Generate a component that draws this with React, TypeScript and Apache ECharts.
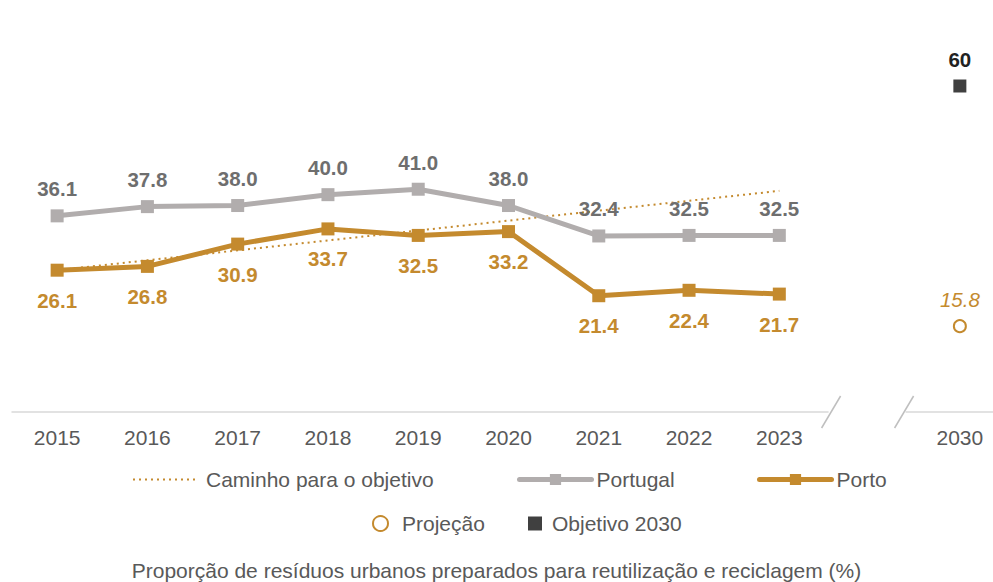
import React, { useEffect, useRef } from "react";
import * as echarts from "echarts";

const categories = ["2015", "2016", "2017", "2018", "2019", "2020", "2021", "2022", "2023", "", "2030"];
const portugal = [36.1, 37.8, 38.0, 40.0, 41.0, 38.0, 32.4, 32.5, 32.5, null, null];
const porto = [26.1, 26.8, 30.9, 33.7, 32.5, 33.2, 21.4, 22.4, 21.7, null, null];
const trendPath = [26.1, null, null, null, null, null, null, null, 40.7, null, null];
const projection = [null, null, null, null, null, null, null, null, null, null, 15.8];
const objective = [null, null, null, null, null, null, null, null, null, null, 60];

const FONT = "'Liberation Sans', Arial, sans-serif";
const GOLD = "#c48a2e";
const GREY_LINE = "#b1adad";
const GREY_TEXT = "#6e6e6e";
const TEXT = "#595959";
const FS = 21;
const LFS = 20.5;

export default function App() {
  const ref = useRef<HTMLDivElement>(null);
  useEffect(() => {
    document.body.style.margin = "0";
    if (!ref.current) return;
    const chart = echarts.init(ref.current, undefined, { renderer: "svg" });
    const legendText = { color: TEXT, fontSize: FS, fontFamily: FONT };
    chart.setOption({
      animation: false,
      textStyle: { fontFamily: FONT },
      title: {
        text: "Proporção de resíduos urbanos preparados para reutilização e reciclagem (%)",
        left: "center",
        top: 559,
        padding: 0,
        textStyle: { color: TEXT, fontSize: FS, lineHeight: 22, fontWeight: "normal", fontFamily: FONT },
      },
      grid: { left: 12, width: 993, top: 86, bottom: 170, outerBoundsMode: "none" },
      xAxis: {
        type: "category",
        data: categories,
        boundaryGap: true,
        axisLine: { show: true, lineStyle: { color: "#d9d9d9", width: 1.5 } },
        axisTick: { show: false },
        axisLabel: { color: TEXT, fontSize: FS, fontFamily: FONT, margin: 15, interval: 0 },
      },
      yAxis: {
        type: "value",
        min: 0,
        max: 60,
        show: false,
        splitLine: { show: false },
      },
      legend: [
        {
          data: ["Caminho para o objetivo"],
          left: 127, top: 464, itemWidth: 63, itemHeight: 14,
          itemStyle: { opacity: 0 },
          lineStyle: { width: 2, type: [2, 4], color: GOLD },
          textStyle: { ...legendText, padding: [0, 0, 0, 5] },
        },
        {
          data: ["Portugal"],
          left: 512, top: 464, itemWidth: 72, itemHeight: 14,
          lineStyle: { width: 5, cap: "round" },
          textStyle: { ...legendText, padding: [0, 0, 0, 0] },
        },
        {
          data: ["Porto"],
          left: 752, top: 464, itemWidth: 72, itemHeight: 14,
          lineStyle: { width: 5, cap: "round" },
          textStyle: { ...legendText, padding: [0, 0, 0, 0] },
        },
        {
          data: ["Projeção"],
          left: 367, top: 508, itemWidth: 15, itemHeight: 15,
          itemStyle: { opacity: 1 },
          textStyle: { ...legendText, padding: [0, 0, 0, 9] },
        },
        {
          data: ["Objetivo 2030"],
          left: 523, top: 508, itemWidth: 14, itemHeight: 14,
          itemStyle: { opacity: 1 },
          textStyle: { ...legendText, padding: [0, 0, 0, 5] },
        },
      ],
      series: [
        {
          name: "Caminho para o objetivo",
          type: "line",
          data: trendPath,
          connectNulls: true,
          symbol: "none",
          z: 1,
          lineStyle: { color: GOLD, width: 2, type: [2, 4] },
          itemStyle: { color: GOLD },
        },
        {
          name: "Portugal",
          type: "line",
          data: portugal,
          symbol: "rect",
          symbolSize: 13,
          z: 2,
          lineStyle: { color: GREY_LINE, width: 5 },
          itemStyle: { color: GREY_LINE },
          label: {
            show: true,
            position: "top",
            distance: 10,
            color: GREY_TEXT,
            fontSize: LFS,
            fontWeight: "bold",
            fontFamily: FONT,
            formatter: (p: any) => Number(p.value).toFixed(1),
          },
        },
        {
          name: "Porto",
          type: "line",
          data: porto,
          symbol: "rect",
          symbolSize: 13,
          z: 3,
          lineStyle: { color: GOLD, width: 5 },
          itemStyle: { color: GOLD },
          label: {
            show: true,
            position: "bottom",
            distance: 13,
            color: GOLD,
            fontSize: LFS,
            fontWeight: "bold",
            fontFamily: FONT,
            formatter: (p: any) => Number(p.value).toFixed(1),
          },
        },
        {
          name: "Projeção",
          type: "scatter",
          data: projection,
          symbol: "circle",
          symbolSize: 12,
          clip: false,
          itemStyle: { color: "#ffffff", borderColor: GOLD, borderWidth: 2, opacity: 1 },
          label: {
            show: true,
            position: "top",
            distance: 10,
            color: GOLD,
            fontSize: LFS,
            fontStyle: "italic",
            fontFamily: FONT,
            formatter: (p: any) => Number(p.value).toFixed(1),
          },
        },
        {
          name: "Objetivo 2030",
          type: "scatter",
          data: objective,
          symbol: "rect",
          symbolSize: 13,
          clip: false,
          itemStyle: { color: "#404040", opacity: 1 },
          label: {
            show: true,
            position: "top",
            distance: 10,
            color: "#222222",
            fontSize: LFS,
            fontWeight: "bold",
            fontFamily: FONT,
            formatter: (p: any) => String(p.value),
          },
        },
      ],
    });
    // axis break decoration around the empty category
    const cx = chart.convertToPixel({ xAxisIndex: 0 }, 9) as number;
    const y0 = chart.convertToPixel({ yAxisIndex: 0 }, 0) as number;
    chart.setOption({
      graphic: [
        { type: "rect", shape: { x: cx - 41, y: y0 - 3, width: 77, height: 6 }, style: { fill: "#ffffff" }, z: 10 },
        { type: "line", shape: { x1: cx - 48, y1: y0 + 16, x2: cx - 29, y2: y0 - 16 }, style: { stroke: "#bfbfbf", lineWidth: 1.5 }, z: 11 },
        { type: "line", shape: { x1: cx + 25, y1: y0 + 16, x2: cx + 44, y2: y0 - 16 }, style: { stroke: "#bfbfbf", lineWidth: 1.5 }, z: 11 },
      ],
    });
    return () => chart.dispose();
  }, []);
  return <div ref={ref} style={{ width: 993, height: 582 }} />;
}
